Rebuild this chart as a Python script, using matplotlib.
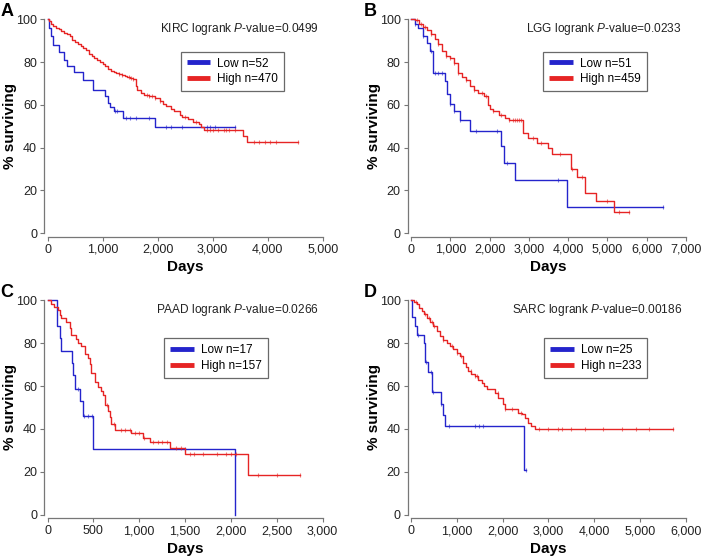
import numpy as np
import matplotlib
matplotlib.use("Agg")
import matplotlib.pyplot as plt
from matplotlib.ticker import FuncFormatter

plt.rcParams["font.family"] = ["Liberation Sans", "DejaVu Sans"]
plt.rcParams["mathtext.fontset"] = "custom"
plt.rcParams["mathtext.rm"] = "Liberation Sans"
plt.rcParams["mathtext.it"] = "Liberation Sans:italic"

BLUE = "#2424cc"
RED = "#e62424"

# ---- panel A: KIRC ----
kirc_low_t = [0, 30, 55, 100, 200, 300, 350, 490, 640, 830, 1040, 1090, 1140, 1200, 1370, 1960, 3400]
kirc_low_s = [100, 96, 92, 88, 84.5, 81, 78, 75.5, 71.5, 67, 64, 61, 59, 57, 54, 49.5, 49.5]
kirc_low_cens = [1230, 1260, 1430, 1500, 1600, 1850, 2150, 2250, 2450, 2900, 2950, 3050, 3400]
kirc_high_t = [0, 30, 60, 100, 150, 200, 250, 300, 350, 400, 450, 500, 550, 600, 650, 700, 750,
               800, 850, 900, 950, 1000, 1050, 1100, 1150, 1200, 1250, 1300, 1350, 1400, 1450,
               1500, 1550, 1600, 1630, 1700, 1750, 1850, 1950, 2050, 2100, 2150, 2250, 2300,
               2400, 2450, 2550, 2650, 2750, 2780, 2850, 3560, 3620, 4550]
kirc_high_s = [100, 99, 98, 97, 96, 95.5, 94.5, 93.5, 93, 92, 90.5, 89.5, 88.5, 87.5, 86.5, 85.5, 84,
               83, 82, 81, 80, 79, 78, 77, 76, 75.5, 75, 74.5, 74, 73.5, 73,
               72.5, 72, 69, 67, 65.5, 64.5, 64, 63, 62, 60.5, 59.5, 58, 57,
               55.5, 54.5, 53.5, 52, 51, 49.5, 48.5, 45.5, 42.5, 42.5]
kirc_high_cens = [1300, 1350, 1480, 1520, 1560, 1800, 1850, 1900, 1950, 2050, 2500, 2700, 2900,
                  2950, 3000, 3100, 3200, 3250, 3300, 3400, 3750, 3850, 3950, 4050, 4150, 4550]

# ---- panel B: LGG ----
lgg_low_t = [0, 100, 180, 300, 400, 480, 560, 860, 920, 985, 1090, 1240, 1500, 2290, 2370, 2650, 3980, 6420]
lgg_low_s = [100, 98, 96, 92, 89, 85, 75, 71, 65, 60.5, 57, 53, 48, 41, 33, 25, 12.3, 12.3]
lgg_low_cens = [100, 300, 520, 620, 700, 800, 1000, 1100, 1250, 1650, 2200, 2450, 3750, 6420]
lgg_high_t = [0, 100, 200, 300, 400, 500, 600, 700, 800, 900, 1000, 1100, 1200, 1300, 1400, 1500,
              1600, 1700, 1850, 1950, 2000, 2100, 2250, 2400, 2500, 2860, 2990, 3200, 3500, 3580,
              4070, 4230, 4430, 4700, 5180, 5550]
lgg_high_s = [100, 99.5, 98, 96.5, 95, 93, 91, 88.5, 85, 83, 82, 79.5, 75, 73, 71.5, 69,
              67, 65.5, 64, 60, 58, 57, 55.5, 54, 53, 47, 44.7, 42.3, 39.7, 37,
              30, 26.5, 19, 15, 9.8, 9.8]
lgg_high_cens = [150, 250, 350, 500, 700, 900, 1000, 1100, 1200, 1400, 1600, 1800, 1900, 2100,
                 2300, 2500, 2600, 2650, 2700, 2750, 2800, 3100, 3300, 3800, 4100, 4350, 5000,
                 5300, 5550]

# ---- panel C: PAAD ----
paad_low_t = [0, 105, 140, 150, 265, 280, 295, 355, 385, 495, 2040, 2040]
paad_low_s = [100, 88.2, 82.4, 76.5, 70.6, 65, 58.8, 52.9, 45.9, 30.6, 0, 0]
paad_low_cens = [330, 400, 440, 480, 1500]
paad_high_t = [0, 40, 76, 110, 131, 150, 204, 240, 258, 313, 331, 368, 404, 440, 459, 477, 513,
               549, 586, 604, 623, 659, 676, 695, 731, 910, 1040, 1115, 1330, 1500, 2188, 2750]
paad_high_s = [100, 98.5, 97, 95.5, 93, 91.6, 90, 87, 84, 81.8, 80, 78.5, 75, 72.9, 70.5, 66, 62,
               59.7, 57.7, 55.8, 51.2, 48.5, 45.7, 42.5, 39.5, 38.3, 36, 34, 31.3, 28.1, 18.6, 18.6]
paad_high_cens = [650, 720, 800, 850, 900, 950, 1000, 1050, 1150, 1200, 1250, 1300, 1400, 1450,
                  1550, 1600, 1700, 1850, 1950, 2000, 2050, 2300, 2500, 2750]

# ---- panel D: SARC ----
sarc_low_t = [0, 20, 95, 130, 280, 300, 380, 460, 650, 700, 740, 2460, 2520]
sarc_low_s = [100, 92, 88, 84, 80, 71, 66.5, 57, 51.5, 46.5, 41.3, 20.7, 20.7]
sarc_low_cens = [150, 330, 430, 470, 660, 830, 1400, 1480, 1570, 2520]
sarc_high_t = [0, 60, 124, 180, 233, 290, 342, 420, 487, 560, 632, 700, 778, 850, 923, 1000, 1069,
               1141, 1200, 1250, 1320, 1396, 1470, 1541, 1600, 1650, 1832, 1905, 2014, 2050, 2341,
               2414, 2486, 2559, 2625, 2699, 5720]
sarc_high_s = [100, 99, 98.1, 96.5, 95, 93.5, 91.9, 90, 88, 85.5, 83.4, 81.5, 80.2, 78.5, 77.1, 75.5, 74,
               70.9, 69, 67, 65.8, 64.7, 63, 61.6, 60, 58.5, 56.9, 54.6, 51.5, 49.1, 47.6,
               46.8, 45.3, 42.9, 41.5, 39.8, 39.8]
sarc_high_cens = [100, 300, 400, 450, 500, 700, 900, 1000, 1100, 1300, 1400, 1450, 1900, 2050,
                  2200, 2400, 2800, 3000, 3200, 3300, 3500, 3800, 4200, 4600, 4900, 5200, 5720]

panels = [
    dict(letter="A", name="KIRC", p="0.0499", xmax=5000, xstep=1000,
         low=(kirc_low_t, kirc_low_s, kirc_low_cens, 52),
         high=(kirc_high_t, kirc_high_s, kirc_high_cens, 470),
         pos=[0.0678, 0.5804, 0.3925, 0.3849], leg=(0.484, 0.849)),
    dict(letter="B", name="LGG", p="0.0233", xmax=7000, xstep=1000,
         low=(lgg_low_t, lgg_low_s, lgg_low_cens, 51),
         high=(lgg_high_t, lgg_high_s, lgg_high_cens, 459),
         pos=[0.5863, 0.5804, 0.3923, 0.3849], leg=(0.481, 0.849)),
    dict(letter="C", name="PAAD", p="0.0266", xmax=3000, xstep=500,
         low=(paad_low_t, paad_low_s, paad_low_cens, 17),
         high=(paad_high_t, paad_high_s, paad_high_cens, 157),
         pos=[0.0678, 0.0743, 0.3925, 0.3856], leg=(0.424, 0.823)),
    dict(letter="D", name="SARC", p="0.00186", xmax=6000, xstep=1000,
         low=(sarc_low_t, sarc_low_s, sarc_low_cens, 25),
         high=(sarc_high_t, sarc_high_s, sarc_high_cens, 233),
         pos=[0.5863, 0.0743, 0.3923, 0.3856], leg=(0.485, 0.823)),
]


def step_value(t, s, x):
    # survival value of a post-step curve at time x
    i = np.searchsorted(np.asarray(t), x, side="right") - 1
    return np.asarray(s)[np.clip(i, 0, len(s) - 1)]


fig = plt.figure(figsize=(7.01, 5.56), dpi=100)

for pn in panels:
    ax = fig.add_axes(pn["pos"])
    for key, color, label in [("low", BLUE, "Low"), ("high", RED, "High")]:
        t, s, cens, n = pn[key]
        ax.step(t, s, where="post", color=color, lw=1.0, clip_on=False, zorder=3)
        ax.plot(cens, step_value(t, s, cens), ls="", marker="|", ms=3.5, mew=0.8,
                color=color, alpha=0.6, clip_on=False, zorder=3)
        ax.plot([], [], color=color, lw=3.5, solid_capstyle="butt", label=f"{label} n={n}")

    ax.set_xlim(0, pn["xmax"])
    ax.set_ylim(0, 100)
    ax.set_xticks(np.arange(0, pn["xmax"] + 1, pn["xstep"]))
    ax.set_yticks([0, 20, 40, 60, 80, 100])
    ax.xaxis.set_major_formatter(FuncFormatter(lambda v, _: f"{int(v):,}"))

    for side in ["top", "right"]:
        ax.spines[side].set_visible(False)
    for side in ["left", "bottom"]:
        ax.spines[side].set_position(("outward", 2.5))
        ax.spines[side].set_color("#777777")
        ax.spines[side].set_linewidth(0.9)
    ax.spines["bottom"].set_bounds(0, pn["xmax"])
    ax.spines["left"].set_bounds(0, 100)
    ax.tick_params(length=3, width=0.8, color="#777777", labelsize=9, labelcolor="#222222", pad=2)

    ax.set_xlabel("Days", fontsize=11, fontweight="bold", va="center")
    ax.xaxis.set_label_coords(0.5, -0.158)
    ax.set_ylabel("% surviving", fontsize=11, fontweight="bold", va="center")
    ax.yaxis.set_label_coords(-0.135, 0.5)

    ax.text(0.985, 0.953, pn["name"] + r" logrank $\it{P}$-value=" + pn["p"],
            transform=ax.transAxes, ha="right", va="center", fontsize=8.6, color="#222222")

    leg = ax.legend(loc="upper left", bbox_to_anchor=pn["leg"], fontsize=8.5,
                    frameon=True, fancybox=False, handlelength=2.0, borderpad=0.5,
                    labelspacing=0.3, handletextpad=0.6, borderaxespad=0)
    leg.get_frame().set_edgecolor("#444444")
    leg.get_frame().set_linewidth(0.9)

    x0, y0 = pn["pos"][0], pn["pos"][1] + pn["pos"][3]
    fig.text(x0 - 0.067, y0 + 0.03, pn["letter"], fontsize=13, fontweight="bold", va="top", ha="left")

fig.savefig("out.png", dpi=100)
